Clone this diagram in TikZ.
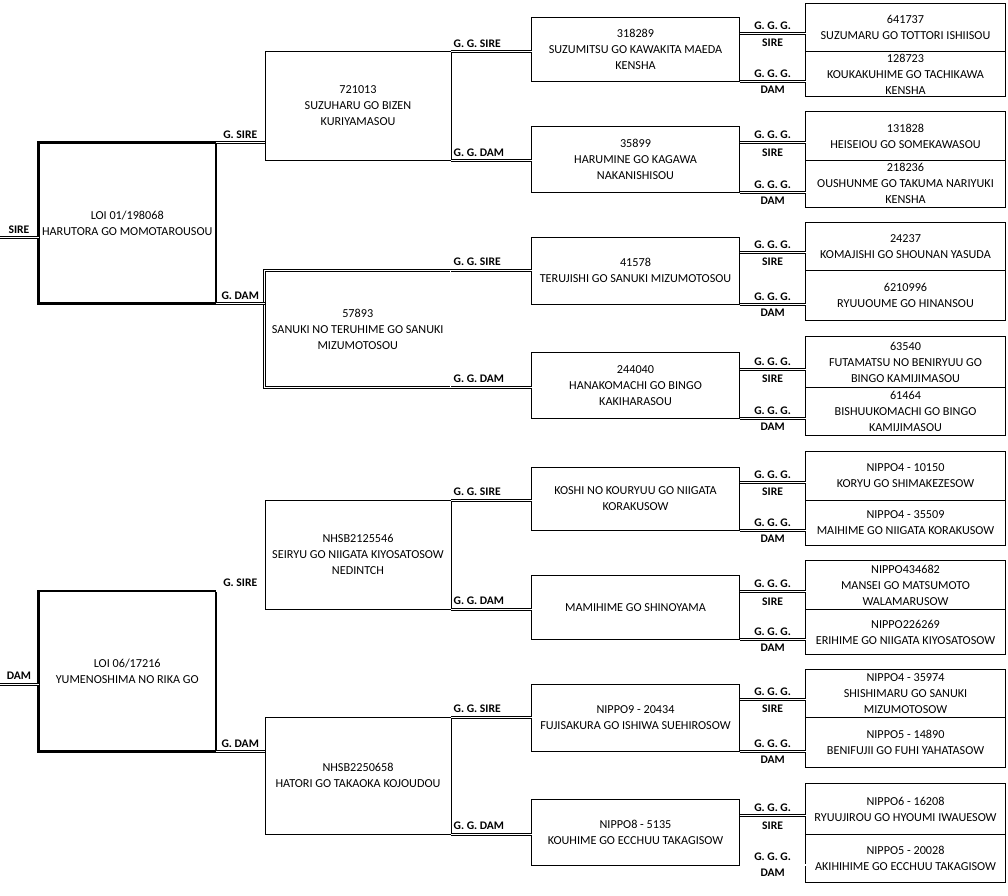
\documentclass[tikz,border=0pt]{standalone}
\usepackage{fontspec}
\setmainfont{Carlito}
\usetikzlibrary{calc}
\begin{document}
\begin{tikzpicture}[x=1pt,y=-1pt,
 box/.style={draw=black, line width=0.9pt, align=center, inner sep=0pt, outer sep=0pt, font=\fontsize{12.2}{16}\selectfont, text=black},
 mainbox/.style={box, line width=2.2pt},
 dblbox/.style={box, line width=0.75pt, double, double distance=1.1pt},
 link/.style={draw=black, line width=0.8pt, double, double distance=1.2pt},
 lbl/.style={font=\fontsize{11.6}{13}\selectfont\bfseries, inner sep=0pt, anchor=base, text=black},
]
\fill[white] (0,0) rectangle (1008,895);
\useasboundingbox (0,0) rectangle (1008,895);

% generation 1
\node[mainbox, minimum width=177.5pt, minimum height=161pt] (A1) at (127.25,223) {LOI 01/198068\\HARUTORA GO MOMOTAROUSOU};
\node[mainbox, minimum width=177.5pt, minimum height=160.5pt] (A2) at (127.25,671.25) {LOI 06/17216\\YUMENOSHIMA NO RIKA GO};

% generation 2
\node[box, minimum width=186pt, minimum height=109pt] (B1) at (358,106) {721013\\SUZUHARU GO BIZEN\\KURIYAMASOU};
\node[dblbox, minimum width=186.5pt, minimum height=117pt] (B2) at (357.75,328.9) {57893\\SANUKI NO TERUHIME GO SANUKI\\MIZUMOTOSOU};
\node[box, minimum width=186pt, minimum height=109pt] (B3) at (358,554.8) {NHSB2125546\\SEIRYU GO NIIGATA KIYOSATOSOW\\NEDINTCH};
\node[box, minimum width=186pt, minimum height=117pt] (B4) at (358,775.8) {NHSB2250658\\HATORI GO TAKAOKA KOJOUDOU};

% generation 3
\node[box, minimum width=208pt, minimum height=64pt] (C1) at (635.5,49.3) {318289\\SUZUMITSU GO KAWAKITA MAEDA\\KENSHA};
\node[box, minimum width=208pt, minimum height=65.6pt] (C2) at (635.5,159.5) {35899\\HARUMINE GO KAGAWA\\NAKANISHISOU};
\node[box, minimum width=208pt, minimum height=67pt] (C3) at (635.5,270.8) {41578\\TERUJISHI GO SANUKI MIZUMOTOSOU};
\node[box, minimum width=208pt, minimum height=66.4pt] (C4) at (635.5,385.5) {244040\\HANAKOMACHI GO BINGO\\KAKIHARASOU};
\node[box, minimum width=208pt, minimum height=63pt] (C5) at (635.5,498.8) {KOSHI NO KOURYUU GO NIIGATA\\KORAKUSOW};
\node[box, minimum width=208pt, minimum height=64pt] (C6) at (635.5,607.7) {MAMIHIME GO SHINOYAMA};
\node[box, minimum width=208pt, minimum height=67pt] (C7) at (635.5,717.8) {NIPPO9 - 20434\\FUJISAKURA GO ISHIWA SUEHIROSOW};
\node[box, minimum width=208pt, minimum height=65.3pt] (C8) at (635.5,832.3) {NIPPO8 - 5135\\KOUHIME GO ECCHUU TAKAGISOW};

% generation 4
\node[box, minimum width=199.6pt, minimum height=48pt] (D1) at (905.5,27.7) {641737\\SUZUMARU GO TOTTORI ISHIISOU};
\node[box, minimum width=199.6pt, minimum height=44.6pt] (D2) at (905.5,74) {128723\\KOUKAKUHIME GO TACHIKAWA\\KENSHA};
\node[box, minimum width=199.6pt, minimum height=48.6pt] (D3) at (905.5,136) {131828\\HEISEIOU GO SOMEKAWASOU};
\node[box, minimum width=199.6pt, minimum height=46.7pt] (D4) at (905.5,183.65) {218236\\OUSHUNME GO TAKUMA NARIYUKI\\KENSHA};
\node[box, minimum width=199.6pt, minimum height=48pt] (D5) at (905.5,246.7) {24237\\KOMAJISHI GO SHOUNAN YASUDA};
\node[box, minimum width=199.6pt, minimum height=49.3pt] (D6) at (905.5,295.35) {6210996\\RYUUOUME GO HINANSOU};
\node[box, minimum width=199.6pt, minimum height=50.6pt] (D7) at (905.5,362) {63540\\FUTAMATSU NO BENIRYUU GO\\BINGO KAMIJIMASOU};
\node[box, minimum width=199.6pt, minimum height=48pt] (D8) at (905.5,411.3) {61464\\BISHUUKOMACHI GO BINGO\\KAMIJIMASOU};
\node[box, minimum width=199.6pt, minimum height=48.6pt] (D9) at (905.5,476) {NIPPO4 - 10150\\KORYU GO SHIMAKEZESOW};
\node[box, minimum width=199.6pt, minimum height=45pt] (D10) at (905.5,522.8) {NIPPO4 - 35509\\MAIHIME GO NIIGATA KORAKUSOW};
\node[box, minimum width=199.6pt, minimum height=49.4pt] (D11) at (905.5,585) {NIPPO434682\\MANSEI GO MATSUMOTO\\WALAMARUSOW};
\node[box, minimum width=199.6pt, minimum height=44.6pt] (D12) at (905.5,632) {NIPPO226269\\ERIHIME GO NIIGATA KIYOSATOSOW};
\node[box, minimum width=199.6pt, minimum height=47.6pt] (D13) at (905.5,693.5) {NIPPO4 - 35974\\SHISHIMARU GO SANUKI\\MIZUMOTOSOW};
\node[box, minimum width=199.6pt, minimum height=50pt] (D14) at (905.5,742.3) {NIPPO5 - 14890\\BENIFUJII GO FUHI YAHATASOW};
\node[box, minimum width=199.6pt, minimum height=50.6pt] (D15) at (905.5,809) {NIPPO6 - 16208\\RYUUJIROU GO HYOUMI IWAUESOW};
\node[box, minimum width=199.6pt, minimum height=47.7pt] (D16) at (905.5,858.15) {NIPPO5 - 20028\\AKIHIHIME GO ECCHUU TAKAGISOW};

% root connectors
\coordinate (r1) at (0,237.5);
\coordinate (r2) at (0,684.3);
\draw[link] (r1) -- (r1 -| A1.west);
\draw[link] (r2) -- (r2 -| A2.west);
\node[lbl] (lr1) at (19,233) {SIRE};
\node[lbl] (lr2) at (19,679.8) {DAM};

% A -> B
\foreach \a/\s/\d in {A1/B1/B2, A2/B3/B4}{
  \draw[link] (\a.north east) -- (\a.north east -| \s.west);
  \draw[link] (\a.south east) -- (\a.south east -| \d.west);
  \path (\a.north east) ++(24.25,-4.5) node[lbl] (gs\a) {G. SIRE};
  \path (\a.south east) ++(24.25,-4.5) node[lbl] (gd\a) {G. DAM};
}

% B -> C
\foreach \b/\s/\d in {B1/C1/C2, B2/C3/C4, B3/C5/C6, B4/C7/C8}{
  \draw[link] (\b.north east) -- (\b.north east -| \s.west);
  \draw[link] (\b.south east) -- (\b.south east -| \d.west);
  \path (\b.north east) ++(2.5,-4.5) node[lbl, anchor=base west] (ggs\b) {G. G. SIRE};
  \path (\b.south east) ++(2.5,-4.5) node[lbl, anchor=base west] (ggd\b) {G. G. DAM};
}

% C -> D
\foreach \c/\s/\d/\off in {C1/D1/D2/16, C2/D3/D4/16, C3/D5/D6/15, C4/D7/D8/17, C5/D9/D10/15, C6/D11/D12/16, C7/D13/D14/15, C8/D15/D16/16}{
  \coordinate (s\c) at ($(\c.north east)+(0,\off)$);
  \draw[link] (s\c) -- (s\c -| \s.west);
  \draw[link] (\c.south east) -- (\c.south east -| \d.west);
  \path (s\c) ++(33.1,-4) node[lbl] (gggs\c) {G. G. G.};
  \path (s\c) ++(33.1,13.5) node[lbl] (sl\c) {SIRE};
  \path (\c.south east) ++(33.1,-4) node[lbl] (gggd\c) {G. G. G.};
  \path (\c.south east) ++(33.1,12) node[lbl] (dl\c) {DAM};
}
\end{tikzpicture}
\end{document}
